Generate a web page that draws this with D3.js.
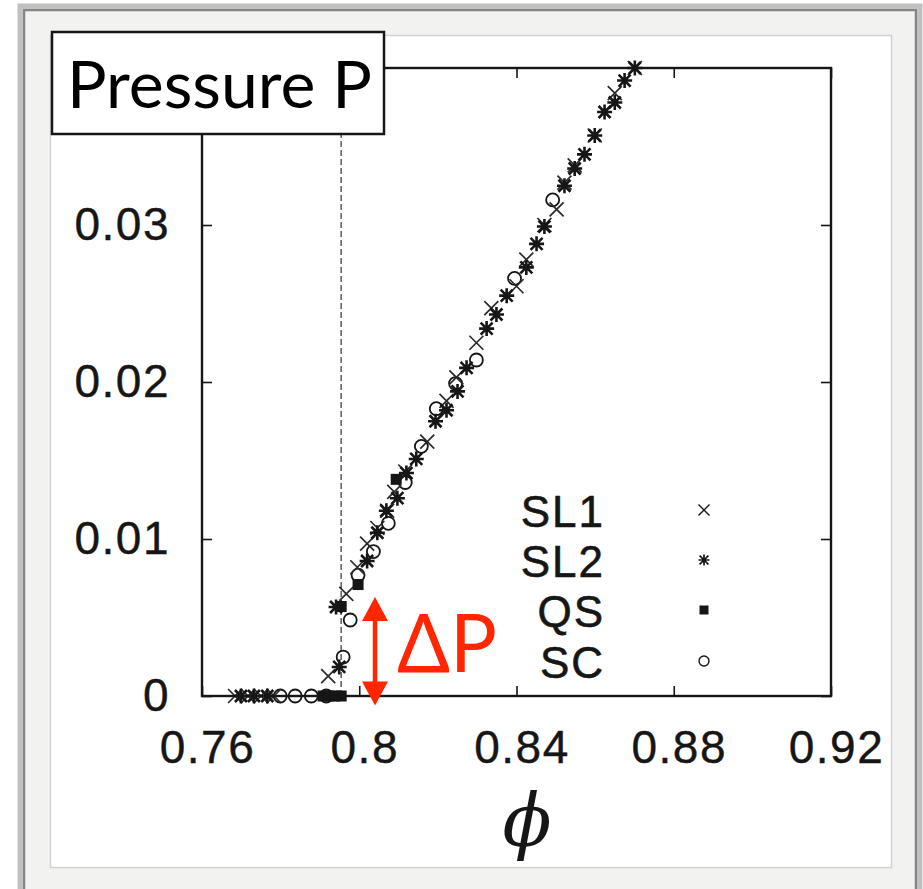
<!DOCTYPE html>
<html><head><meta charset="utf-8">
<script src="https://cdn.jsdelivr.net/npm/d3@7"></script>
<style>body{margin:0;background:#fff;}svg{display:block}</style>
</head><body><svg id="c" width="923" height="889"></svg>
<script>
// ---- data ----
const xTicks = [0.76, 0.8, 0.84, 0.88, 0.92];
const yTicks = [0, 0.01, 0.02, 0.03];
const legendLabels = ["SL1", "SL2", "QS", "SC"];
const phiJ = 0.7954;

const sl1Phi = [0.7684,0.7717,0.7750,0.7783,0.7921,0.7967,0.7995,0.8020,0.8046,0.8071,0.8089,0.8117,0.8173,0.8222,0.8247,0.8298,0.8336,0.8400,0.8425,0.8471,0.8502,0.8522,0.8548,0.8599,0.8650,0.8701];
const sl1P   = [0,0,0,0,0.00127,0.0065,0.0082,0.0097,0.0107,0.0118,0.0130,0.0143,0.0162,0.0188,0.0203,0.0225,0.0247,0.0261,0.0278,0.0300,0.0310,0.0327,0.0338,0.0357,0.0384,0.0400];

const sl2Phi = [0.7699,0.7732,0.7766,0.7949,0.7941,0.8020,0.8046,0.8069,0.8097,0.8120,0.8145,0.8194,0.8222,0.8250,0.8273,0.8324,0.8349,0.8375,0.8425,0.8451,0.8471,0.8522,0.8548,0.8573,0.8599,0.8624,0.8650,0.8675,0.8701];
const sl2P   = [0,0,0,0.00185,0.00567,0.0086,0.0104,0.0118,0.0126,0.0142,0.0151,0.0175,0.0182,0.0194,0.0209,0.0234,0.0243,0.0255,0.0273,0.0288,0.0299,0.0325,0.0336,0.0345,0.0357,0.0372,0.0378,0.0392,0.0400];

const qsPhi = [0.7908,0.7923,0.7938,0.7954,0.7954,0.7997,0.8094];
const qsP   = [0,0,0,0,0.0057,0.0071,0.0138];

const scPhi = [0.7799,0.7837,0.7878,0.7916,0.7959,0.7977,0.7997,0.8036,0.8074,0.8117,0.8158,0.8196,0.8245,0.8298,0.8395,0.8492];
const scP   = [0,0,0,0,0.00248,0.00484,0.0077,0.0092,0.0110,0.0136,0.0159,0.0183,0.0199,0.0214,0.0266,0.0316];

// ---- drawing ----
const svg = d3.select("#c");
const SANS = "'Liberation Sans', Arial, Helvetica, sans-serif";
const HUM = "Lato, 'Open Sans', sans-serif";
const ink = "#161616";

// frame
svg.append("rect").attr("x",20).attr("y",6).attr("width",900).attr("height",900)
  .attr("fill","#f2f2f0").attr("stroke","#c0c0c0").attr("stroke-width",5);
svg.append("rect").attr("x",24).attr("y",10).attr("width",892).attr("height",892)
  .attr("fill","none").attr("stroke","#858585").attr("stroke-width",2.5);
svg.append("rect").attr("x",50.5).attr("y",35.5).attr("width",841).attr("height",832)
  .attr("fill","#fff").attr("stroke","#d2d2d2").attr("stroke-width",1.5);

const x = d3.scaleLinear().domain([0.76, 0.92]).range([202, 831]);
const y = d3.scaleLinear().domain([0, 0.04]).range([696, 68]);

const fmt = d => d === 0 ? "0" : String(+d.toFixed(2));

function styleAxis(g){
  g.select(".domain").remove();
  g.selectAll(".tick line").attr("stroke", ink).attr("stroke-width", 1.6);
  g.selectAll("text").attr("fill", ink).attr("font-family", SANS)
    .attr("font-size", 46).attr("letter-spacing", 1.5)
    .attr("stroke", ink).attr("stroke-width", 0.4);
}
svg.append("g").attr("transform","translate(0,696)")
  .call(d3.axisBottom(x).tickValues(xTicks).tickFormat(fmt).tickSizeInner(-10).tickSizeOuter(0).tickPadding(34))
  .call(styleAxis).call(g=>g.selectAll("text").attr("dx",5));
svg.append("g").attr("transform","translate(0,68)")
  .call(d3.axisTop(x).tickValues(xTicks).tickFormat("").tickSizeInner(-10).tickSizeOuter(0))
  .call(styleAxis);
svg.append("g").attr("transform","translate(202,0)")
  .call(d3.axisLeft(y).tickValues(yTicks).tickFormat(fmt).tickSizeInner(-10).tickSizeOuter(0).tickPadding(32))
  .call(styleAxis);
svg.append("g").attr("transform","translate(831,0)")
  .call(d3.axisRight(y).tickValues(yTicks).tickFormat("").tickSizeInner(-10).tickSizeOuter(0))
  .call(styleAxis);

// dashed jamming line
svg.append("line").attr("x1",x(phiJ)).attr("x2",x(phiJ)).attr("y1",y(0)).attr("y2",y(0.04))
  .attr("stroke","#666").attr("stroke-width",1.6).attr("stroke-dasharray","6,3");

// plot frame
svg.append("rect").attr("x",x(0.76)).attr("y",y(0.04)).attr("width",x(0.92)-x(0.76)).attr("height",y(0)-y(0.04))
  .attr("fill","none").attr("stroke",ink).attr("stroke-width",2.4);

// marker shapes
const crossPath = s => `M${-s},${-s}L${s},${s}M${-s},${s}L${s},${-s}`;
const starPath = s => crossPath(s*0.8) + `M0,${-s}L0,${s}M${-s},0L${s},0`;

const pts = (px, py) => px.map((v,i)=>({phi:v, p:py[i]}));
const gData = svg.append("g");

gData.selectAll(".sc").data(pts(scPhi, scP)).join("circle")
  .attr("cx", d=>x(d.phi)).attr("cy", d=>y(d.p)).attr("r",6.5)
  .attr("fill","none").attr("stroke",ink).attr("stroke-width",1.8);
gData.selectAll(".sl1").data(pts(sl1Phi, sl1P)).join("path")
  .attr("transform", d=>`translate(${x(d.phi)},${y(d.p)})`).attr("d", crossPath(7))
  .attr("fill","none").attr("stroke","#2a2a2a").attr("stroke-width",1.7);
gData.selectAll(".sl2").data(pts(sl2Phi, sl2P)).join("path")
  .attr("transform", d=>`translate(${x(d.phi)},${y(d.p)})`).attr("d", starPath(7.5))
  .attr("fill","none").attr("stroke",ink).attr("stroke-width",2.6);
gData.selectAll(".qs").data(pts(qsPhi, qsP)).join("rect")
  .attr("x", d=>x(d.phi)-5.5).attr("y", d=>y(d.p)-5.5).attr("width",11).attr("height",11)
  .attr("fill",ink);

// legend
const legY = [527, 577, 627, 678];
const lg = svg.append("g");
legendLabels.forEach((lab,i)=>{
  lg.append("text").attr("x",605).attr("y",legY[i]).attr("text-anchor","end")
    .attr("font-family",SANS).attr("font-size",44).attr("letter-spacing",2).attr("fill",ink)
    .attr("stroke",ink).attr("stroke-width",0.6).text(lab);
  const cy = legY[i]-17, cx = 704;
  if(i===0) lg.append("path").attr("transform",`translate(${cx},${cy})`).attr("d",crossPath(5.5))
      .attr("fill","none").attr("stroke",ink).attr("stroke-width",1.4);
  if(i===1) lg.append("path").attr("transform",`translate(${cx},${cy})`).attr("d",starPath(5.5))
      .attr("fill","none").attr("stroke",ink).attr("stroke-width",1.7);
  if(i===2) lg.append("rect").attr("x",cx-4.5).attr("y",cy-4.5).attr("width",9).attr("height",9).attr("fill",ink);
  if(i===3) lg.append("circle").attr("cx",cx).attr("cy",cy).attr("r",5).attr("fill","none")
      .attr("stroke",ink).attr("stroke-width",1.4);
});

// delta P arrow
const red = "#ff2600";
const ax = 375, aTop = y(0.0063), aBot = y(-0.0006);
svg.append("line").attr("x1",ax).attr("x2",ax).attr("y1",aTop+20).attr("y2",aBot-20)
  .attr("stroke",red).attr("stroke-width",4.5);
svg.append("path").attr("d",`M${ax},${aTop}L${ax-13},${aTop+24}L${ax+13},${aTop+24}Z`).attr("fill",red);
svg.append("path").attr("d",`M${ax},${aBot}L${ax-13},${aBot-24}L${ax+13},${aBot-24}Z`).attr("fill",red);
svg.append("text").attr("x",397).attr("y",672).attr("font-family",HUM).attr("font-size",82)
  .attr("fill",red).attr("textLength",100).attr("lengthAdjust","spacingAndGlyphs").text("ΔP");

// axis label
svg.append("text").attr("x",527).attr("y",846).attr("text-anchor","middle")
  .attr("font-family","'DejaVu Serif', serif").attr("font-style","italic").attr("font-size",72)
  .attr("fill",ink).text("ϕ");

// title box
svg.append("rect").attr("x",52).attr("y",32).attr("width",332).attr("height",102)
  .attr("fill","#fff").attr("stroke",ink).attr("stroke-width",2.5);
svg.append("text").attr("x",67).attr("y",108).attr("font-family",HUM).attr("font-size",66)
  .attr("fill","#000").attr("textLength",305).attr("lengthAdjust","spacingAndGlyphs").text("Pressure P");
</script></body></html>
